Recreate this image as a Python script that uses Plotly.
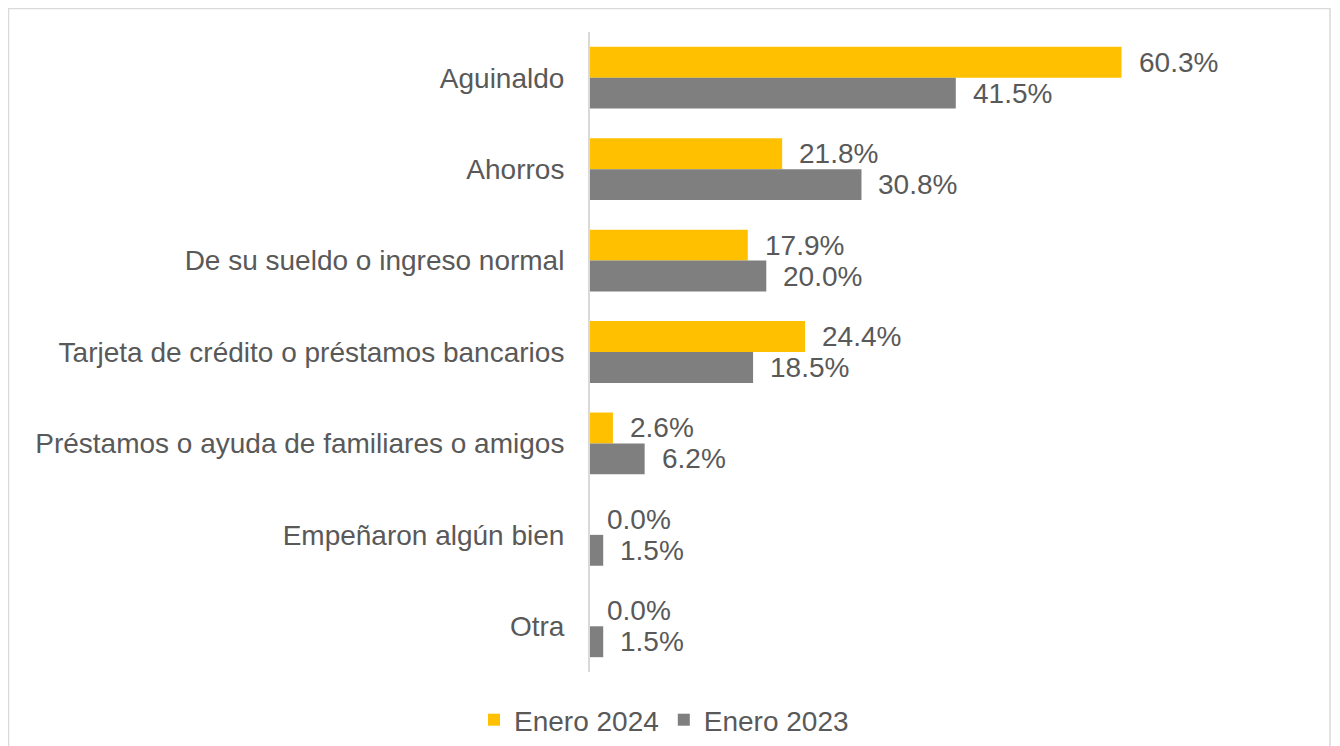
import plotly.graph_objects as go

categories = [
    "Aguinaldo",
    "Ahorros",
    "De su sueldo o ingreso normal",
    "Tarjeta de crédito o préstamos bancarios",
    "Préstamos o ayuda de familiares o amigos",
    "Empeñaron algún bien",
    "Otra",
]
enero_2024 = [60.3, 21.8, 17.9, 24.4, 2.6, 0.0, 0.0]
enero_2023 = [41.5, 30.8, 20.0, 18.5, 6.2, 1.5, 1.5]
series_names = ["Enero 2024", "Enero 2023"]

GOLD = "#FFC000"
GRAY = "#7F7F7F"
TEXT = "#595959"
FONT = "Liberation Sans, Arial, sans-serif"

fig = go.Figure()
fig.add_trace(go.Bar(y=categories, x=enero_2024, orientation="h", name=series_names[0],
                     marker=dict(color=GOLD, line=dict(width=0))))
fig.add_trace(go.Bar(y=categories, x=enero_2023, orientation="h", name=series_names[1],
                     marker=dict(color=GRAY, line=dict(width=0))))

annotations = []
for vals, shift in ((enero_2024, 15.5), (enero_2023, -15.5)):
    for cat, v in zip(categories, vals):
        annotations.append(dict(
            x=v, y=cat, xref="x", yref="y", text=f"{v:.1f}%", showarrow=False,
            xanchor="left", yanchor="middle", xshift=15, yshift=shift,
            font=dict(family=FONT, size=28, color=TEXT),
        ))

# page has an 8px body margin; figure occupies page x 8..1340, y 8..746
W, H = 1332, 738
OFF = 8
L, T = 590 - OFF, 32 - OFF
pw = 617
ph = 640
R = W - L - pw
B = H - T - ph

def px(xp):
    return (xp - OFF - L) / pw

def py(yp):
    return (H - B - (yp - OFF)) / ph

fig.add_shape(type="rect", xref="paper", yref="paper",
              x0=px(8.5), x1=px(1330), y0=py(760), y1=py(8.5),
              line=dict(color="#D9D9D9", width=1.5), fillcolor="rgba(0,0,0,0)", layer="below")

fig.update_layout(
    width=W, height=H,
    margin=dict(l=L, r=R, t=T, b=B),
    paper_bgcolor="white", plot_bgcolor="white",
    barmode="group", bargap=0.324, bargroupgap=0,
    font=dict(family=FONT, size=28, color=TEXT),
    showlegend=True,
    legend=dict(orientation="h", xref="container", yref="container",
                x=(664 - OFF) / W, xanchor="center", y=1 - (720 - OFF) / H, yanchor="middle",
                font=dict(family=FONT, size=28, color=TEXT),
                traceorder="normal", itemwidth=30),
    annotations=annotations,
    xaxis=dict(range=[0, 70], showgrid=False, zeroline=False, showticklabels=False,
               showline=False, ticks="", fixedrange=True),
    yaxis=dict(autorange="reversed", showgrid=False, zeroline=False,
               showline=True, linecolor="#D9D9D9", linewidth=2,
               ticks="outside", ticklen=18, tickcolor="rgba(0,0,0,0)",
               tickfont=dict(family=FONT, size=28, color=TEXT)),
)

fig.write_html("out.html")
